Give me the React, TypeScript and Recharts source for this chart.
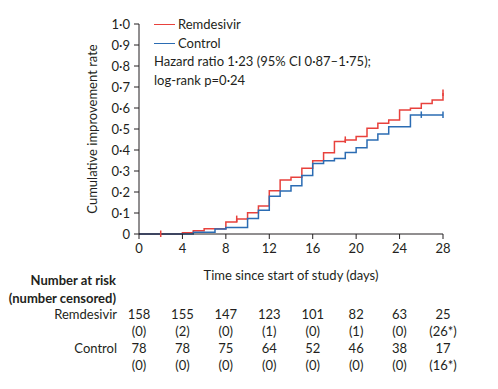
import { LineChart, Line, XAxis, YAxis, Legend } from 'recharts';

const days = [0, 1, 2, 3, 4, 5, 6, 7, 8, 9, 10, 11, 12, 13, 14, 15, 16, 17, 18, 19, 20, 21, 22, 23, 24, 25, 26, 27, 28];
const remdesivirRate = [0, 0, 0, 0, 0.006, 0.016, 0.025, 0.025, 0.057, 0.071, 0.101, 0.133, 0.206, 0.257, 0.27, 0.313, 0.349, 0.387, 0.44, 0.448, 0.464, 0.503, 0.527, 0.543, 0.59, 0.599, 0.622, 0.638, 0.672];
const controlRate = [0, 0, 0, 0, 0, 0.008, 0.008, 0.024, 0.031, 0.031, 0.074, 0.113, 0.18, 0.205, 0.23, 0.279, 0.336, 0.349, 0.36, 0.388, 0.411, 0.448, 0.476, 0.511, 0.511, 0.567, 0.567, 0.567, 0.567];
const remdesivirCensored = [2, 9, 19, 28];
const controlCensored = [26, 28];

const xTicks = [0, 4, 8, 12, 16, 20, 24, 28];
const yTicks = [0, 0.1, 0.2, 0.3, 0.4, 0.5, 0.6, 0.7, 0.8, 0.9, 1.0];

const remdesivirAtRisk = ['158', '155', '147', '123', '101', '82', '63', '25'];
const remdesivirCensoredCount = ['(0)', '(2)', '(0)', '(1)', '(0)', '(1)', '(0)', '(26*)'];
const controlAtRisk = ['78', '78', '75', '64', '52', '46', '38', '17'];
const controlCensoredCount = ['(0)', '(0)', '(0)', '(0)', '(0)', '(0)', '(0)', '(16*)'];

const RED = '#e8413c';
const BLUE = '#2b6cb3';
const INK = '#231f20';
const FONT = 'Lato, sans-serif';
const FS = 13;

const data = days.map((d, i) => ({ day: d, remdesivir: remdesivirRate[i], control: controlRate[i] }));

const fmt = (v: number) => (v === 0 ? '0' : v.toFixed(1).replace('.', '·'));

function censorDot(color: string, censored: number[]) {
  return (props: any) => {
    const { cx, cy, payload, index } = props;
    if (!censored.includes(payload.day)) return <g key={index} />;
    return <line key={index} x1={cx} x2={cx} y1={cy - 3.5} y2={cy + 3} stroke={color} strokeWidth={1.5} />;
  };
}

function RiskTick(props: any) {
  const { x, y, payload } = props;
  const i = xTicks.indexOf(payload.value);
  const rows = [
    { vals: remdesivirAtRisk, dy: 74.5, label: 'Remdesivir' },
    { vals: remdesivirCensoredCount, dy: 91.5 },
    { vals: controlAtRisk, dy: 108.5, label: 'Control' },
    { vals: controlCensoredCount, dy: 125.5 },
  ];
  const t = { fontFamily: FONT, fontSize: FS, fill: INK };
  return (
    <g>
      <text x={x} y={y} dy="0.71em" textAnchor="middle" {...t}>{payload.value}</text>
      {rows.map((r, k) => (
        <text key={k} x={x} y={y + r.dy} textAnchor="middle" {...t}>{r.vals[i]}</text>
      ))}
      {i === 0 && (
        <g>
          <text x={x - 23} y={y + 40.5} textAnchor="end" {...t} fontWeight="bold">Number at risk</text>
          <text x={x - 23} y={y + 58.5} textAnchor="end" {...t} fontWeight="bold">(number censored)</text>
          {rows.filter((r) => r.label).map((r, k) => (
            <text key={k} x={x - 22} y={y + r.dy} textAnchor="end" {...t}>{r.label}</text>
          ))}
        </g>
      )}
    </g>
  );
}

function LegendBox() {
  const row = { display: 'flex', alignItems: 'center', height: 18.7, whiteSpace: 'nowrap' as const };
  return (
    <div style={{ fontFamily: FONT, fontSize: FS, color: INK, lineHeight: '18.7px' }}>
      <div style={row}>
        <span style={{ width: 21, height: 0, borderTop: `1.5px solid ${RED}`, marginRight: 3 }} />
        <span>Remdesivir</span>
      </div>
      <div style={row}>
        <span style={{ width: 21, height: 0, borderTop: `1.5px solid ${BLUE}`, marginRight: 3 }} />
        <span>Control</span>
      </div>
      <div style={row}>Hazard ratio 1·23 (95% CI 0·87–1·75);</div>
      <div style={row}>log-rank p=0·24</div>
    </div>
  );
}

export default function App() {
  return (
    <div style={{ position: 'absolute', left: 0, top: 0, width: 498, height: 389, background: '#fff' }}>
      <LineChart width={498} height={389} data={data} margin={{ top: 24, right: 55, bottom: 109, left: 79 }}>
        <XAxis
          dataKey="day"
          type="number"
          domain={[0, 28]}
          ticks={xTicks}
          interval={0}
          height={46}
          tickSize={5}
          tickMargin={5}
          stroke={INK}
          tick={<RiskTick />}
          label={{ value: 'Time since start of study (days)', position: 'insideBottom', offset: 0, style: { fontFamily: FONT, fontSize: FS, fill: INK } }}
        />
        <YAxis
          type="number"
          domain={[0, 1]}
          ticks={yTicks}
          interval={0}
          width={60}
          tickSize={5}
          tickMargin={4}
          stroke={INK}
          tickFormatter={fmt}
          tick={{ fontFamily: FONT, fontSize: FS, fill: INK }}
          label={{ value: 'Cumulative improvement rate', angle: -90, position: 'insideLeft', offset: 13, style: { textAnchor: 'middle', fontFamily: FONT, fontSize: FS, fill: INK } }}
        />
        <Legend
          layout="horizontal"
          verticalAlign="middle"
          align="center"
          content={<LegendBox />}
          wrapperStyle={{ left: 154, top: 15, width: 260 }}
        />
        <Line type="stepAfter" dataKey="remdesivir" stroke={RED} strokeWidth={1.5} dot={censorDot(RED, remdesivirCensored)} activeDot={false} isAnimationActive={false} />
        <Line type="stepAfter" dataKey="control" stroke={BLUE} strokeWidth={1.5} dot={censorDot(BLUE, controlCensored)} activeDot={false} isAnimationActive={false} />
      </LineChart>
    </div>
  );
}
